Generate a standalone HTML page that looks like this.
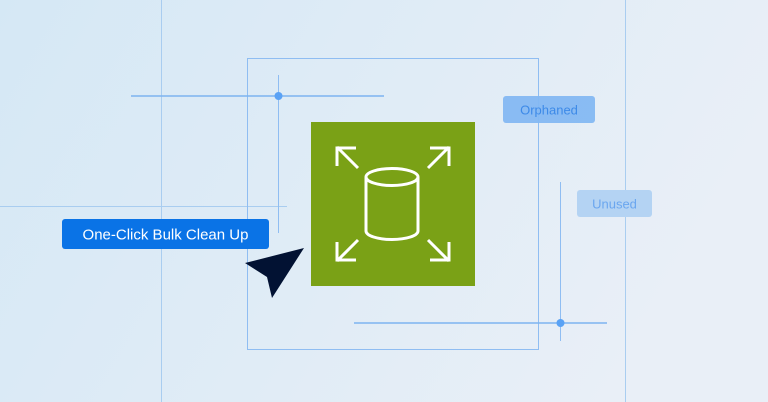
<!DOCTYPE html>
<html><head><style>
html,body{margin:0;padding:0;width:768px;height:402px;overflow:hidden}
svg{display:block}
text{font-family:"Liberation Sans",sans-serif}
</style></head><body>
<svg width="768" height="402" viewBox="0 0 768 402" xmlns="http://www.w3.org/2000/svg">
<defs><linearGradient id="bg" x1="0" y1="0" x2="1" y2="0.3">
<stop offset="0" stop-color="#d5e8f5"/><stop offset="1" stop-color="#e9eff7"/></linearGradient></defs>
<rect width="768" height="402" fill="url(#bg)"/>
<g stroke="#a9cdf0" stroke-width="1" fill="none">
<line x1="161.5" y1="0" x2="161.5" y2="402"/>
<line x1="625.5" y1="0" x2="625.5" y2="402"/>
<line x1="0" y1="206.5" x2="287" y2="206.5"/>
</g>
<g stroke="#8fbdf2" stroke-width="1" fill="none">
<rect x="247.5" y="58.5" width="291" height="291"/>
<line x1="278.5" y1="75" x2="278.5" y2="233"/>
<line x1="560.5" y1="182" x2="560.5" y2="341"/>
</g>
<g stroke="#7db3f0" stroke-width="1.5">
<line x1="131" y1="96" x2="384" y2="96"/>
<line x1="354" y1="323" x2="607" y2="323"/>
</g>
<circle cx="278.5" cy="96" r="4" fill="#5aa2f5"/>
<circle cx="560.5" cy="323" r="4" fill="#5aa2f5"/>
<rect x="503" y="96" width="92" height="27" rx="3" fill="#84b8f2" opacity="0.95"/>
<text x="549" y="114.5" text-anchor="middle" font-size="13" fill="#3d8ae8">Orphaned</text>
<rect x="577" y="190" width="75" height="27" rx="3" fill="#b4d3f3"/>
<text x="614.5" y="208.5" text-anchor="middle" font-size="13" fill="#6aa6ef">Unused</text>
<rect x="311" y="122" width="164" height="164" fill="#7aa116"/>
<g stroke="#fff" stroke-width="3" fill="none" stroke-linecap="butt">
<path d="M337 147 L358 168"/><path d="M337 166 V148 H356"/>
<path d="M449 147 L428 168"/><path d="M449 166 V148 H430"/>
<path d="M337 261 L358 240"/><path d="M337 242 V260 H356"/>
<path d="M449 261 L428 240"/><path d="M449 242 V260 H430"/>
<ellipse cx="392" cy="177" rx="26" ry="8.5"/>
<path d="M366 177 V231 A26 8.5 0 0 0 418 231 V177"/>
</g>
<rect x="62" y="219" width="207" height="30" rx="3" fill="#0a73e6"/>
<text x="165.5" y="239.5" text-anchor="middle" font-size="15" fill="#fff">One-Click Bulk Clean Up</text>
<path d="M304 248 L245 263 L267 277 L272 298 Z" fill="#021233"/>
</svg>
</body></html>
